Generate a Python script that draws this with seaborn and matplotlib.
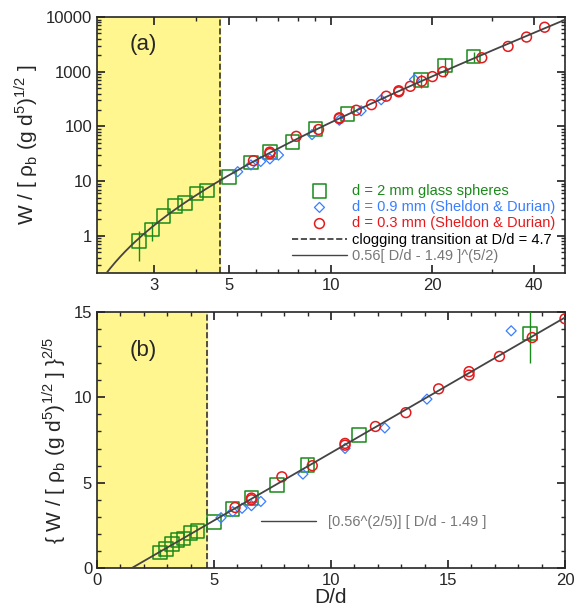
import numpy as np
import matplotlib
matplotlib.use("Agg")
import matplotlib.pyplot as plt
import seaborn as sns
from matplotlib.ticker import FixedLocator, NullFormatter

# D/d and W readings
glass_x = [2.7, 2.95, 3.2, 3.45, 3.7, 4.0, 4.3, 5.0, 5.8, 6.6, 7.7, 9.0, 11.2, 18.5, 21.8, 26.5]
glass_w = [0.8, 1.3, 2.3, 3.5, 4.0, 6.0, 6.8, 12, 22, 34, 52, 90, 170, 700, 1300, 1900]
glass_err = [0.45, 0.5, 0, 0, 0, 0, 0, 0, 0, 0, 0, 15, 0, 200, 500, 400]
sd09_x = [5.3, 5.8, 6.2, 6.6, 7.0, 8.8, 10.6, 12.3, 14.1, 17.7]
sd09_w = [14.9, 19.8, 22.9, 25.5, 30, 71, 130, 193, 308, 720]
sd03_x = [5.9, 6.6, 6.6, 7.9, 9.2, 10.6, 10.6, 11.9, 13.2, 14.6, 15.9, 15.9, 17.2, 18.6, 20.0,
          21.5, 28, 33.5, 38, 43]
sd03_w = [23.7, 34, 32, 66, 88, 144, 139, 198, 250, 357, 429, 449, 541, 670, 815,
          1000, 1800, 2900, 4300, 6500]
a_fit, x0, d_clog = 0.56, 1.49, 4.7

green, blue, red = "#1a8a1a", "#3a7fff", "#e41a1c"

sns.set_theme(style="ticks")
plt.rcParams['font.family'] = ['Liberation Sans', 'DejaVu Sans']
plt.rcParams['mathtext.fontset'] = 'custom'
plt.rcParams['mathtext.rm'] = 'Liberation Sans'
fig = plt.figure(figsize=(5.82, 6.08), dpi=100)
W, H = 582, 608
ax1 = fig.add_axes([97 / W, 1 - 273 / H, 468 / W, 256 / H])
ax2 = fig.add_axes([97 / W, 1 - 568 / H, 468 / W, 256 / H])


def draw(ax, tf):
    ax.axvspan(0, d_clog, color="#fff68f", zorder=0)
    ax.axvline(d_clog, color="#333333", ls="--", lw=1.2, label="clogging transition at D/d = 4.7")
    gx = np.array(glass_x)
    gw = np.array(glass_w)
    ge = np.array(glass_err)
    ax.errorbar(gx, tf(gw), yerr=[tf(gw) - tf(np.maximum(gw - ge, 1e-6)), tf(gw + ge) - tf(gw)],
                fmt="none", ecolor=green, elinewidth=1, zorder=3)
    sns.scatterplot(x=gx, y=tf(gw), ax=ax, marker="s", s=95, facecolors="none",
                    edgecolor=green, linewidth=1.1, label="d = 2 mm glass spheres", zorder=4)
    sns.scatterplot(x=sd09_x, y=tf(np.array(sd09_w)), ax=ax, marker="D", s=26, facecolors="none",
                    edgecolor=blue, linewidth=0.9, label="d = 0.9 mm (Sheldon & Durian)", zorder=4)
    sns.scatterplot(x=sd03_x, y=tf(np.array(sd03_w)), ax=ax, marker="o", s=50, facecolors="none",
                    edgecolor=red, linewidth=1.1, label="d = 0.3 mm (Sheldon & Durian)", zorder=5)
    xf = np.linspace(x0 + 1e-4, 50, 600)
    ax.plot(xf, tf(a_fit * (xf - x0) ** 2.5), color="#444444", lw=1.3, zorder=6)
    ax.tick_params(which="both", direction="in", top=True, right=True, labelsize=12)
    ax.tick_params(which="major", length=6)
    ax.tick_params(which="minor", length=3)
    for s in ax.spines.values():
        s.set_linewidth(1.2)


draw(ax1, lambda w: w)
ax1.set_xscale("log")
ax1.set_yscale("log")
ax1.set_xlim(2.03, 49.4)
ax1.set_ylim(0.21, 10000)
ax1.xaxis.set_major_locator(FixedLocator([3, 5, 10, 20, 40]))
ax1.set_xticklabels(["3", "5", "10", "20", "40"])
ax1.xaxis.set_minor_formatter(NullFormatter())
ax1.set_yticks([1, 10, 100, 1000, 10000])
ax1.set_yticklabels(["1", "10", "100", "1000", "10000"])
ax1.set_ylabel("W / [ ρ$_\\mathrm{b}$ (g d$^\\mathrm{5}$)$^\\mathrm{1/2}$ ]", fontsize=15)
ax1.text(0.07, 0.87, "(a)", transform=ax1.transAxes, fontsize=16)
h, l = ax1.get_legend_handles_labels()
fit_line = plt.Line2D([], [], color="#444444", lw=1)
order = [1, 2, 3, 0]
leg = ax1.legend([h[i] for i in order] + [fit_line], [l[i] for i in order] + ["0.56[ D/d - 1.49 ]^(5/2)"],
                 loc="lower right", frameon=False, fontsize=10.5, handlelength=3.8,
                 labelspacing=0.15, borderaxespad=0.3, handletextpad=0.3)
for t, c in zip(leg.get_texts(), [green, blue, red, "black", "#777777"]):
    t.set_color(c)

draw(ax2, lambda w: np.asarray(w, dtype=float) ** 0.4)
ax2.set_xlim(0, 20)
ax2.set_ylim(0, 15)
ax2.set_xticks([0, 5, 10, 15, 20])
ax2.set_yticks([0, 5, 10, 15])
ax2.xaxis.set_minor_locator(FixedLocator(np.arange(0, 20.1, 1)))
ax2.yaxis.set_minor_locator(FixedLocator(np.arange(0, 15.1, 1)))
ax2.set_xlabel("D/d", fontsize=15, labelpad=0)
ax2.set_ylabel("{ W / [ ρ$_\\mathrm{b}$ (g d$^\\mathrm{5}$)$^\\mathrm{1/2}$ ] }$^\\mathrm{2/5}$", fontsize=15)
ax2.text(0.07, 0.83, "(b)", transform=ax2.transAxes, fontsize=16)
ax2.legend([plt.Line2D([], [], color="#444444", lw=1)], ["[0.56^(2/5)] [ D/d - 1.49 ]"],
           loc="lower right", bbox_to_anchor=(0.86, 0.1), frameon=False, fontsize=10.5,
           handlelength=3.8, labelcolor="#777777")

fig.savefig("out.png", dpi=100)
